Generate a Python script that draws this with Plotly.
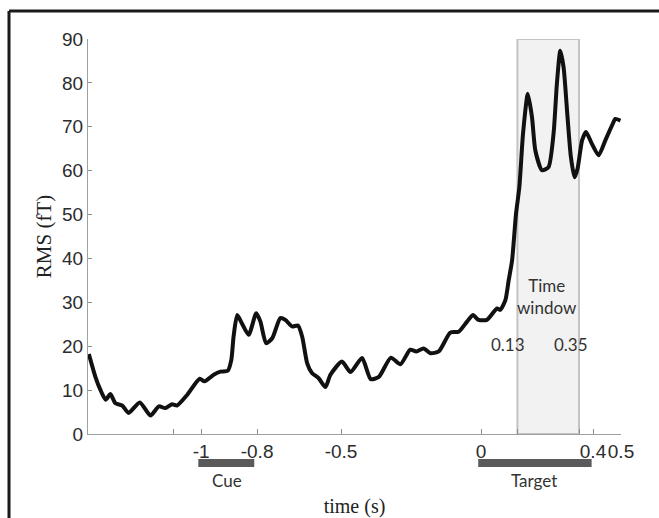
import plotly.graph_objects as go

# ---- data ----
time_s = [-1.401, -1.378, -1.36, -1.341, -1.324, -1.306, -1.282, -1.259, -1.219, -1.181,
          -1.151, -1.128, -1.104, -1.086, -1.05, -1.005, -0.988, -0.955, -0.931, -0.905,
          -0.892, -0.884, -0.871, -0.854, -0.83, -0.803, -0.788, -0.768, -0.746, -0.717,
          -0.699, -0.675, -0.654, -0.639, -0.621, -0.604, -0.58, -0.556, -0.538, -0.497,
          -0.466, -0.425, -0.394, -0.365, -0.322, -0.288, -0.253, -0.231, -0.205, -0.181,
          -0.151, -0.11, -0.08, -0.05, -0.029, -0.009, 0.021, 0.057, 0.069, 0.087,
          0.099, 0.111, 0.125, 0.137, 0.15, 0.167, 0.182, 0.194, 0.218, 0.241,
          0.259, 0.271, 0.283, 0.295, 0.309, 0.321, 0.334, 0.345, 0.361, 0.375,
          0.396, 0.42, 0.444, 0.468, 0.48, 0.498]
rms_ft = [18.2, 13.1, 10.1, 7.8, 9.1, 7.0, 6.5, 4.8, 7.2, 4.2,
          6.3, 5.9, 6.8, 6.5, 8.9, 12.6, 12.0, 13.5, 14.2, 14.4,
          16.9, 22.2, 27.1, 25.2, 22.6, 27.5, 25.6, 20.7, 21.8, 26.4,
          26.0, 24.5, 24.7, 22.2, 16.1, 13.9, 12.7, 10.7, 13.5, 16.5,
          14.1, 17.3, 12.5, 13.0, 17.4, 15.9, 19.2, 18.8, 19.5, 18.4,
          18.8, 23.1, 23.3, 25.6, 27.1, 26.0, 26.0, 28.6, 28.3, 30.5,
          35.1, 39.6, 50.2, 56.3, 68.4, 77.5, 72.2, 64.6, 60.1, 60.8,
          68.4, 79.8, 87.3, 83.5, 72.2, 63.1, 58.5, 60.5, 66.9, 68.8,
          66.1, 63.5, 66.9, 70.3, 71.8, 71.4]

x_tick_vals = [-1.1, -1, -0.8, -0.5, 0, 0.13, 0.35, 0.4, 0.5]
x_tick_text = ["", "-1", "-0.8", "-0.5", "0", "", "", "0.4", "0.5"]
y_tick_vals = [0, 10, 20, 30, 40, 50, 60, 70, 80, 90]

time_window = [0.13, 0.35]
cue_interval = [-1.0, -0.8]
target_interval = [0.0, 0.4]

# ---- layout geometry ----
W, H = 659, 518
ML, MR, MT, MB = 88, 38, 39, 84
PW, PH = W - ML - MR, H - MT - MB


def px_x(px):
    return (px - ML) / PW


def px_y(py):
    return (H - MB - py) / PH


fig = go.Figure()
fig.add_trace(go.Scatter(
    x=time_s, y=rms_ft, mode="lines",
    line=dict(color="#111111", width=4, shape="spline", smoothing=0.6),
    hoverinfo="skip", showlegend=False))

shapes = [
    # time window box
    dict(type="rect", xref="x", yref="y", x0=time_window[0], x1=time_window[1],
         y0=0, y1=90, fillcolor="#f2f2f2", line=dict(color="#c4c4c4", width=2),
         layer="below"),
    # cue / target bars
    dict(type="rect", xref="x", yref="paper", x0=cue_interval[0] - 0.01, x1=cue_interval[1] - 0.01,
         y0=px_y(467), y1=px_y(459), fillcolor="#5a5a5a", line=dict(width=0)),
    dict(type="rect", xref="x", yref="paper", x0=target_interval[0] - 0.01, x1=target_interval[1] - 0.005,
         y0=px_y(467), y1=px_y(459), fillcolor="#5a5a5a", line=dict(width=0)),
    # outer frame (top and left)
    dict(type="line", xref="paper", yref="paper", x0=px_x(9), x1=px_x(9),
         y0=px_y(11), y1=px_y(530), line=dict(color="#1a1a1a", width=3)),
    dict(type="line", xref="paper", yref="paper", x0=px_x(9), x1=px_x(670),
         y0=px_y(11), y1=px_y(11), line=dict(color="#1a1a1a", width=3)),
]

label_font = dict(family="Lato, 'Open Sans', sans-serif", size=17, color="#333333")
annotations = [
    dict(text="Time<br>window", xref="x", yref="y", x=0.237, y=31.3, showarrow=False,
         font=label_font, align="center", xanchor="center", yanchor="middle"),
    dict(text="0.13", xref="x", yref="y", x=0.098, y=20.3, showarrow=False, font=label_font,
         xanchor="center", yanchor="middle"),
    dict(text="0.35", xref="x", yref="y", x=0.321, y=20.3, showarrow=False, font=label_font,
         xanchor="center", yanchor="middle"),
    dict(text="Cue", xref="x", yref="paper", x=-0.909, y=px_y(480), showarrow=False,
         font=label_font, xanchor="center", yanchor="middle"),
    dict(text="Target", xref="x", yref="paper", x=0.19, y=px_y(480), showarrow=False,
         font=label_font, xanchor="center", yanchor="middle"),
]

fig.update_layout(
    width=W, height=H,
    margin=dict(l=ML, r=MR, t=MT, b=MB),
    paper_bgcolor="white", plot_bgcolor="white",
    shapes=shapes, annotations=annotations,
    xaxis=dict(
        range=[-1.404, 0.5], tickmode="array", tickvals=x_tick_vals, ticktext=x_tick_text,
        tickangle=0, automargin=False,
        ticks="inside", ticklen=5, tickcolor="#8c8c8c", tickwidth=1,
        showline=True, linecolor="#a0a0a0", linewidth=1, showgrid=False, zeroline=False,
        tickfont=dict(family="'Liberation Sans', Arial, sans-serif", size=19, color="#2b2b2b"),
        title=dict(text="time (s)", standoff=39,
                   font=dict(family="'Liberation Serif', 'Times New Roman', serif", size=20,
                             color="#222222")),
    ),
    yaxis=dict(
        range=[0, 90], tickmode="array", tickvals=y_tick_vals, automargin=False,
        ticks="inside", ticklen=4, tickcolor="#8c8c8c", tickwidth=1,
        showline=True, linecolor="#a0a0a0", linewidth=1, showgrid=False, zeroline=False,
        tickfont=dict(family="'Liberation Sans', Arial, sans-serif", size=19, color="#2b2b2b"),
        title=dict(text="RMS (fT)", standoff=4,
                   font=dict(family="'Liberation Serif', 'Times New Roman', serif", size=21,
                             color="#222222")),
    ),
)

fig.write_html("out.html", config={"displayModeBar": False},
               post_script="document.body.style.margin='0';document.body.style.overflow='hidden';")
